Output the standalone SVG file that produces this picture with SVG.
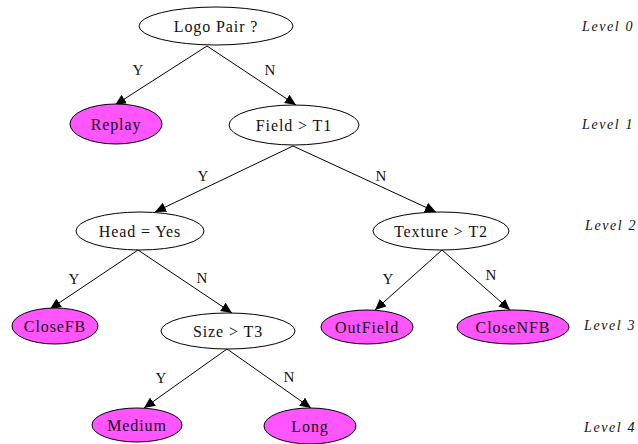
<svg xmlns="http://www.w3.org/2000/svg" width="638" height="444" viewBox="0 0 638 444">
<style>
.n ellipse{stroke:#000;stroke-width:1;fill:#fff}
.n.leaf ellipse{fill:#ff55ff}
.n text{font-family:"Liberation Serif","Times New Roman",serif;font-size:16px;letter-spacing:0.9px;text-anchor:middle;fill:#111}
.e line{stroke:#000;stroke-width:1;marker-end:url(#ah)}
.e text{font-family:"Liberation Serif","Times New Roman",serif;font-size:15px;text-anchor:middle;fill:#111}
.lv{font-family:"Liberation Serif","Times New Roman",serif;font-style:italic;font-size:14px;letter-spacing:1.6px;fill:#111}
</style>
<defs>
<marker id="ah" markerUnits="userSpaceOnUse" viewBox="0 0 11 10" markerWidth="11" markerHeight="10" refX="11" refY="5" orient="auto">
<path d="M0,0 L11,5 L0,10 z" fill="#000"/>
</marker>
</defs>
<rect width="638" height="444" fill="#fff"/>
<g id="edges" class="e">
<line x1="207" y1="46" x2="115" y2="105"/>
<line x1="207" y1="46" x2="296" y2="105"/>
<line x1="293" y1="146" x2="155" y2="212"/>
<line x1="293" y1="146" x2="436" y2="212"/>
<line x1="138" y1="250" x2="50" y2="309"/>
<line x1="138" y1="250" x2="232" y2="313"/>
<line x1="442" y1="250" x2="375" y2="310"/>
<line x1="442" y1="250" x2="510" y2="310"/>
<line x1="227" y1="349" x2="144" y2="408"/>
<line x1="227" y1="349" x2="311" y2="408"/>
<text x="138" y="75">Y</text>
<text x="270" y="75">N</text>
<text x="203" y="181">Y</text>
<text x="381" y="181">N</text>
<text x="74" y="284">Y</text>
<text x="202" y="283">N</text>
<text x="388" y="284">Y</text>
<text x="491" y="280">N</text>
<text x="161" y="383">Y</text>
<text x="289" y="382">N</text>
</g>
<g id="logo" class="n"><ellipse cx="216" cy="26" rx="77" ry="19"/><text x="216" y="31.5">Logo Pair ?</text></g>
<g id="replay" class="n leaf"><ellipse cx="116" cy="124" rx="46" ry="20"/><text x="116" y="129.5">Replay</text></g>
<g id="field" class="n"><ellipse cx="294" cy="125" rx="65" ry="20"/><text x="294" y="130.5">Field &gt; T1</text></g>
<g id="head" class="n"><ellipse cx="140" cy="231" rx="64" ry="19"/><text x="140" y="236.5">Head = Yes</text></g>
<g id="texture" class="n"><ellipse cx="441" cy="231" rx="68" ry="19"/><text x="441" y="236.5">Texture &gt; T2</text></g>
<g id="closefb" class="n leaf"><ellipse cx="55" cy="326" rx="43" ry="18"/><text x="55" y="331.5">CloseFB</text></g>
<g id="size" class="n"><ellipse cx="228" cy="331" rx="67" ry="18"/><text x="228" y="336.5">Size &gt; T3</text></g>
<g id="outfield" class="n leaf"><ellipse cx="367" cy="327" rx="46" ry="17"/><text x="367" y="332.5">OutField</text></g>
<g id="closenfb" class="n leaf"><ellipse cx="513" cy="327" rx="56" ry="17"/><text x="513" y="332.5">CloseNFB</text></g>
<g id="medium" class="n leaf"><ellipse cx="137" cy="425" rx="45" ry="17"/><text x="137" y="430.5">Medium</text></g>
<g id="long" class="n leaf"><ellipse cx="310" cy="426" rx="46" ry="18"/><text x="310" y="431.5">Long</text></g>
<g id="levels">
<text class="lv" x="582" y="31">Level 0</text>
<text class="lv" x="582" y="129">Level 1</text>
<text class="lv" x="585" y="230">Level 2</text>
<text class="lv" x="584" y="330">Level 3</text>
<text class="lv" x="584" y="432">Level 4</text>
</g>
</svg>
